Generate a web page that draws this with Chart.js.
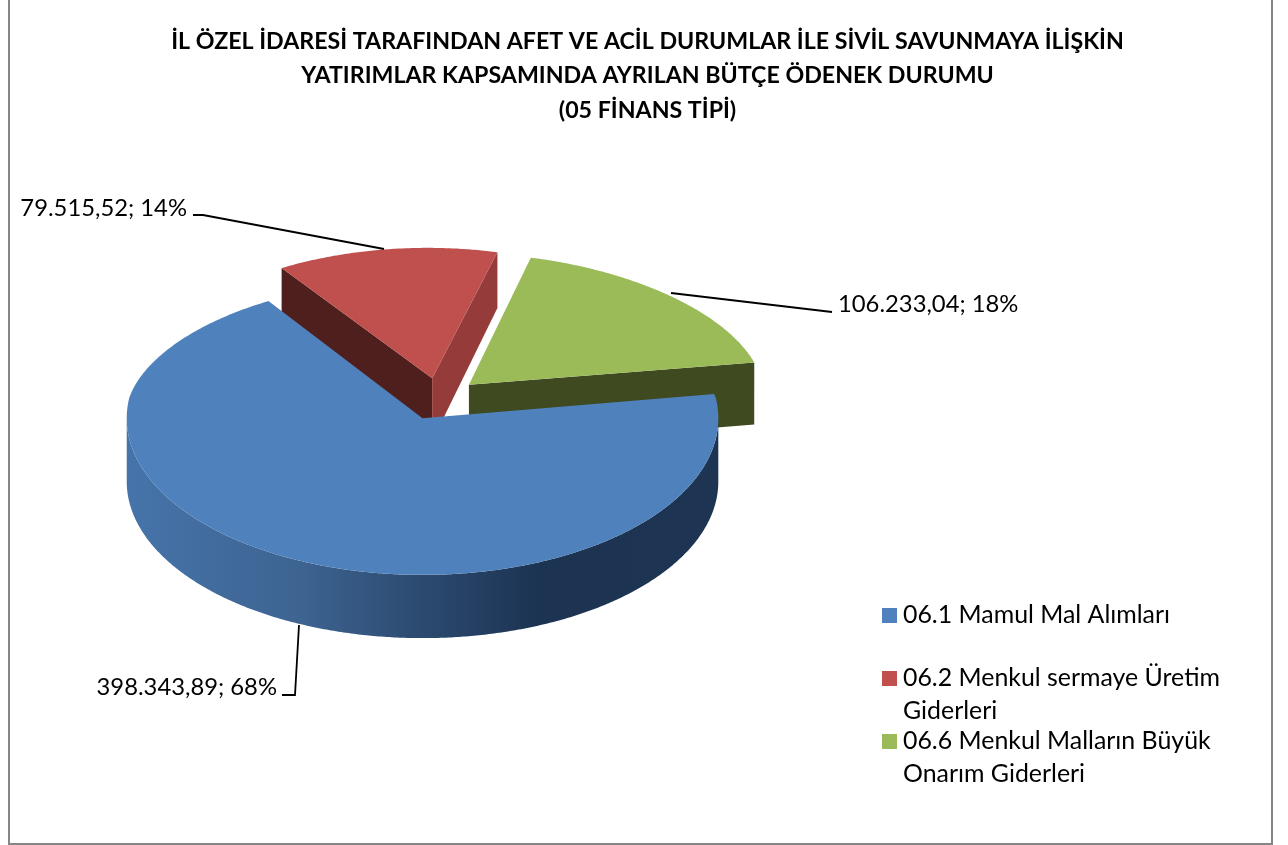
<!DOCTYPE html>
<html lang="tr">
<head>
<meta charset="utf-8">
<title>Bütçe Ödenek Durumu</title>
<script src="https://cdn.jsdelivr.net/npm/chart.js@4"></script>
<style>
    html, body { margin: 0; padding: 0; background: #fff; }
    canvas { display: block; }
</style>
</head>
<body>
<canvas id="pieChart" width="1288" height="845"></canvas>
<script>
const titleLines = [
    'İL ÖZEL İDARESİ TARAFINDAN AFET VE ACİL DURUMLAR İLE SİVİL SAVUNMAYA İLİŞKİN',
    'YATIRIMLAR KAPSAMINDA AYRILAN BÜTÇE ÖDENEK DURUMU',
    '(05 FİNANS TİPİ)'
];
const categories = [
    '06.1 Mamul Mal Alımları',
    '06.2 Menkul sermaye Üretim Giderleri',
    '06.6 Menkul Malların Büyük Onarım Giderleri'
];
const values = [398343.89, 79515.52, 106233.04];
const sliceColors = ['#4f81bd', '#c0504d', '#9bbb59'];

const FONT = 'Lato, Carlito, sans-serif';

// Leader lines and label anchors
const labelAnchors = [
    { x: 277, y: 695, align: 'right', line: [[282, 695], [295, 695], [299, 625]] },
    { x: 187, y: 216, align: 'right', line: [[193, 215], [203, 215], [384, 249]] },
    { x: 838, y: 312, align: 'left', line: [[832, 312], [671, 293]] }
];
const legendRows = [623, 686, 749];

// 3D look of the pie: where the flat pie is projected on the page
const view = { cx: 438, cy: 398.5, depth: 62, vanish: -48 };
// walls along the slice edges [start, end], null when it never shows
const edgeWalls = [[null, null], ['#4f1f1d', '#953c3a'], [null, '#3f4a21']];
const drawOrder = [1, 2, 0];

// back of the pie is shrunk a little, like Excel's perspective
const scaleAt = dy => dy >= 0 ? 1.02 : 1.02 - 1.19e-4 * Math.pow(-dy, 1.2);
const project = (dx, dy, z) => {
    const s = scaleAt(dy);
    const bend = dy < 0 ? 0.00456 * Math.pow(-dy, 1.5) : 0;
    return [
        view.cx + view.vanish + (dx - view.vanish) * s,
        view.cy + 0.54 * dy + bend + z * s
    ];
};

const fillPoly = (ctx, pts, color) => {
    ctx.beginPath();
    pts.forEach((p, i) => i ? ctx.lineTo(p[0], p[1]) : ctx.moveTo(p[0], p[1]));
    ctx.closePath();
    ctx.fillStyle = color;
    ctx.fill();
};

const pie3d = {
    id: 'pie3d',
    beforeDraw(chart) {
        const ctx = chart.ctx;
        ctx.save();
        ctx.fillStyle = '#fff';
        ctx.fillRect(0, 0, chart.width, chart.height);
        ctx.strokeStyle = '#868686';
        ctx.lineWidth = 2;
        ctx.strokeRect(9, -10, 1263, 854);
        ctx.restore();
    },
    // the arcs are drawn here instead of the flat default
    beforeDatasetsDraw(chart) {
        const ctx = chart.ctx;
        const arcs = chart.getDatasetMeta(0).data;
        ctx.save();

        drawOrder.forEach(i => {
            const arc = arcs[i];
            const start = arc.startAngle, end = arc.endAngle, R = arc.outerRadius;
            const mid = (start + end) / 2;
            const off = arc.options.offset;
            const ox = Math.cos(mid) * off, oy = Math.sin(mid) * off;
            const rim = a => [ox + R * Math.cos(a), oy + R * Math.sin(a)];
            const step = Math.PI / 180 / 2;

            // radial walls
            [start, end].forEach((a, k) => {
                const color = edgeWalls[i][k];
                if (!color) return;
                const r = rim(a);
                fillPoly(ctx, [
                    project(ox, oy, 0), project(r[0], r[1], 0),
                    project(r[0], r[1], view.depth), project(ox, oy, view.depth)
                ], color);
            });

            // curved outer wall, only the part that faces the viewer
            const upper = [], lower = [];
            for (let a = start; a <= end; a += step) {
                if (Math.sin(a) < 0) continue;
                const r = rim(a);
                upper.push(project(r[0], r[1], 0));
                lower.unshift(project(r[0], r[1], view.depth));
            }
            if (upper.length) {
                const g = ctx.createLinearGradient(125, 0, 717, 0);
                g.addColorStop(0, '#4674aa');
                g.addColorStop(0.3, '#3d6391');
                g.addColorStop(0.5, '#2c4a70');
                g.addColorStop(0.7, '#1c3352');
                g.addColorStop(1, '#1d3552');
                fillPoly(ctx, upper.concat(lower), g);
            }

            // top face
            const top = [project(ox, oy, 0)];
            for (let a = start; a < end; a += step) {
                const r = rim(a);
                top.push(project(r[0], r[1], 0));
            }
            const last = rim(end);
            top.push(project(last[0], last[1], 0));
            fillPoly(ctx, top, sliceColors[i]);
        });

        ctx.restore();
        return false;
    },
    afterDraw(chart) {
        const ctx = chart.ctx;
        const total = values.reduce((a, b) => a + b, 0);
        ctx.save();

        // data labels with leader lines
        ctx.font = '23.8px ' + FONT;
        ctx.textBaseline = 'alphabetic';
        values.forEach((v, i) => {
            const a = labelAnchors[i];
            const amount = v.toLocaleString('tr-TR', { minimumFractionDigits: 2, maximumFractionDigits: 2 });
            ctx.fillStyle = '#000';
            ctx.textAlign = a.align;
            ctx.fillText(amount + '; ' + Math.round(v / total * 100) + '%', a.x, a.y);

            ctx.beginPath();
            a.line.forEach((p, k) => k ? ctx.lineTo(p[0], p[1]) : ctx.moveTo(p[0], p[1]));
            ctx.strokeStyle = '#000';
            ctx.lineWidth = 1.8;
            ctx.stroke();
        });

        // legend, wrapped like the original
        ctx.font = '24.9px ' + FONT;
        ctx.textAlign = 'left';
        categories.forEach((name, i) => {
            const y = legendRows[i];
            ctx.fillStyle = sliceColors[i];
            ctx.fillRect(882, y - 15, 15, 15);

            ctx.fillStyle = '#000';
            const words = name.split(' ');
            let line = '', row = 0;
            words.forEach(w => {
                const next = line ? line + ' ' + w : w;
                if (ctx.measureText(next).width > 330) {
                    ctx.fillText(line, 903, y + row * 32.5);
                    line = w;
                    row++;
                } else {
                    line = next;
                }
            });
            ctx.fillText(line, 903, y + row * 32.5);
        });

        ctx.restore();
    }
};

new Chart(document.getElementById('pieChart'), {
    type: 'pie',
    data: {
        labels: categories,
        datasets: [{
            data: values,
            backgroundColor: sliceColors,
            borderWidth: 0,
            offset: 40
        }]
    },
    options: {
        responsive: false,
        animation: false,
        rotation: 81,
        radius: 290,
        layout: { padding: { left: 7 } },
        plugins: {
            title: {
                display: true,
                text: titleLines,
                color: '#000',
                font: { family: FONT, size: 23.2, weight: 'bold', lineHeight: 1.466 },
                padding: { top: 25, bottom: 0 }
            },
            legend: { display: false },
            tooltip: { enabled: false }
        }
    },
    plugins: [pie3d]
});
</script>
</body>
</html>
